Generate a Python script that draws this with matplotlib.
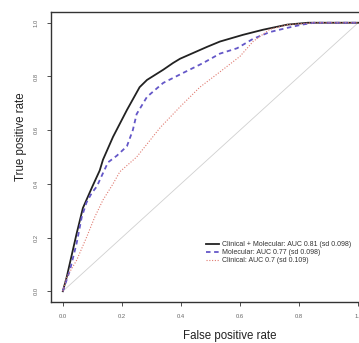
import matplotlib
matplotlib.use("Agg")
import matplotlib.pyplot as plt

plt.rcParams["font.family"] = ["Liberation Sans", "DejaVu Sans"]

# ROC curves
fpr_both = [0, 0.013, 0.047, 0.068, 0.10, 0.125, 0.136, 0.17, 0.217, 0.26, 0.285,
            0.34, 0.373, 0.397, 0.488, 0.532, 0.61, 0.678, 0.76, 0.83, 1.0]
tpr_both = [0, 0.052, 0.216, 0.31, 0.39, 0.45, 0.49, 0.575, 0.675, 0.76, 0.787,
            0.825, 0.85, 0.866, 0.91, 0.93, 0.955, 0.974, 0.993, 1.0, 1.0]

fpr_mol = [0, 0.024, 0.047, 0.064, 0.08, 0.098, 0.115, 0.136, 0.153, 0.183, 0.217,
           0.237, 0.25, 0.285, 0.34, 0.407, 0.475, 0.532, 0.59, 0.644, 0.70, 0.76,
           0.81, 0.85, 1.0]
tpr_mol = [0, 0.078, 0.18, 0.276, 0.33, 0.366, 0.39, 0.44, 0.48, 0.505, 0.54,
           0.60, 0.66, 0.724, 0.776, 0.813, 0.85, 0.885, 0.905, 0.94, 0.965, 0.981,
           0.993, 1.0, 1.0]

fpr_clin = [0, 0.013, 0.047, 0.08, 0.108, 0.136, 0.17, 0.193, 0.25, 0.33, 0.397,
            0.464, 0.532, 0.60, 0.644, 0.70, 0.76, 0.85, 1.0]
tpr_clin = [0, 0.052, 0.116, 0.20, 0.276, 0.34, 0.40, 0.445, 0.50, 0.61, 0.687,
            0.76, 0.817, 0.875, 0.93, 0.975, 0.993, 1.0, 1.0]

labels = ["Clinical + Molecular: AUC 0.81 (sd 0.098)",
          "Molecular: AUC 0.77 (sd 0.098)",
          "Clinical: AUC 0.7 (sd 0.109)"]
ticks = [0.0, 0.2, 0.4, 0.6, 0.8, 1.0]
tick_labels = ["0.0", "0.2", "0.4", "0.6", "0.8", "1.0"]

fig = plt.figure(figsize=(3.59, 3.43), dpi=100)
W, H = 359, 343
# the plot box runs past the right edge, as in the reference crop
ax = fig.add_axes([51 / W, 1 - 302 / H, (370 - 51) / W, (302 - 12) / H])

ax.plot([0, 1], [0, 1], color="#d0d0d0", lw=0.6)
ax.plot(fpr_both, tpr_both, color="#222222", lw=1.3, label=labels[0])
ax.plot(fpr_mol, tpr_mol, color="#6457c8", lw=1.3, ls=(0, (2.5, 2)), label=labels[1])
ax.plot(fpr_clin, tpr_clin, color="#e07a70", lw=0.8, ls=(0, (1, 1.5)), label=labels[2])

ax.set_xlim(-0.04, 1.04)
ax.set_ylim(-0.04, 1.04)
ax.set_xticks(ticks)
ax.set_xticklabels(tick_labels, fontsize=4.2)
ax.set_yticks(ticks)
ax.set_yticklabels(tick_labels, fontsize=4.2, rotation=90, va="center")
ax.tick_params(length=3, width=0.6, pad=6, colors="#333333", labelcolor="#666666")
for s in ax.spines.values():
    s.set_linewidth(1.0)
    s.set_color("#333333")

fig.text(230 / W, 1 - 336 / H, "False positive rate", ha="center", va="center",
         fontsize=8.3, color="#222222")
fig.text(21 / W, 1 - 137 / H, "True positive rate", ha="center", va="center",
         fontsize=8.3, rotation=90, color="#222222")

ax.legend(loc="upper left", bbox_to_anchor=(206 / W, 1 - 241 / H),
          bbox_transform=fig.transFigure, frameon=False, fontsize=5.0,
          handlelength=1.9, handletextpad=0.45, labelspacing=0.18,
          borderpad=0, borderaxespad=0, labelcolor="#333333")

fig.savefig("out.png", dpi=100)
